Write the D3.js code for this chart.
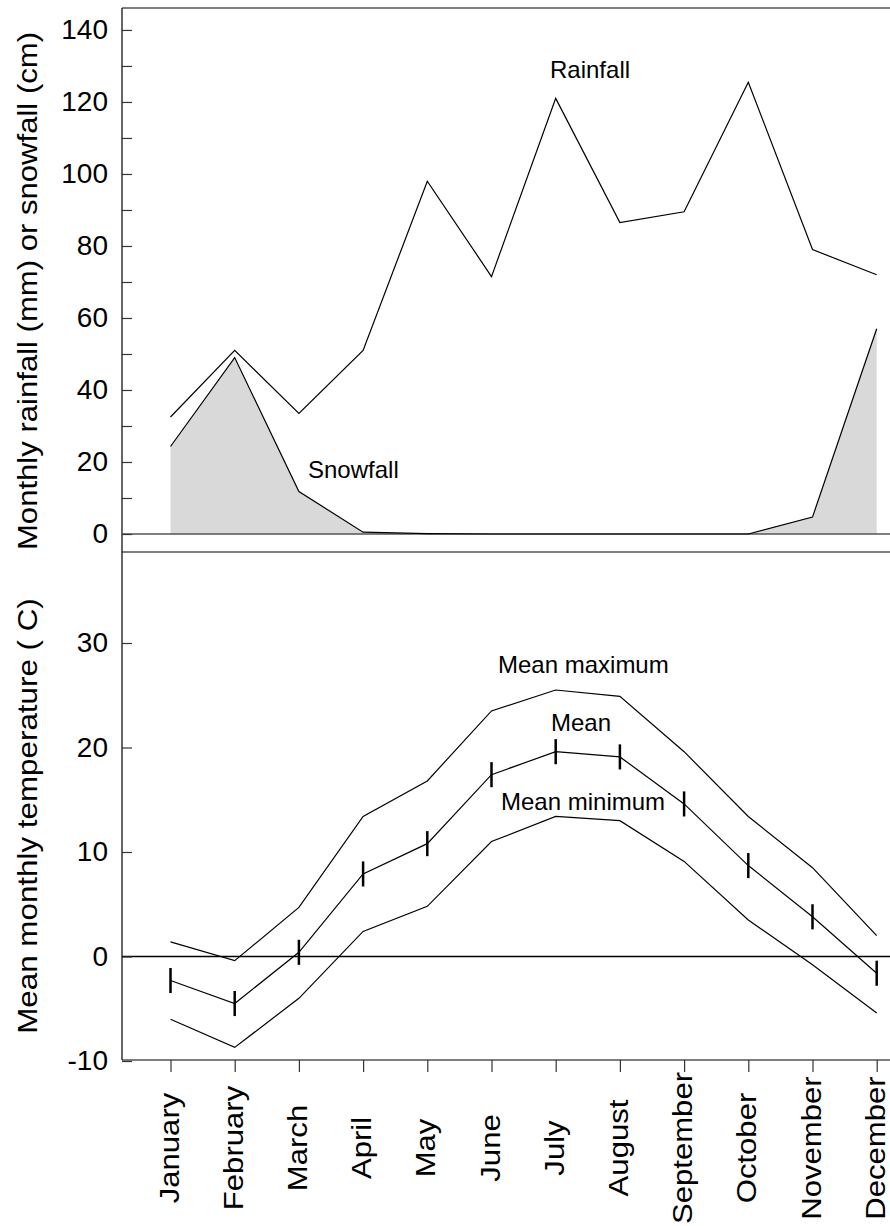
<!DOCTYPE html>
<html>
<head>
<meta charset="utf-8">
<script src="https://cdn.jsdelivr.net/npm/d3@7"></script>
<style>
  body { margin: 0; background: #fff; }
  svg text { font-family: "Liberation Sans", Arial, sans-serif; fill: #000; }
</style>
</head>
<body>
<div id="chart"></div>
<script>
var months = ["January", "February", "March", "April", "May", "June", "July",
  "August", "September", "October", "November", "December"];
var rainfall = [32.5, 51, 33.5, 51, 98, 71.5, 121, 86.5, 89.5, 125.5, 79, 72];
var snowfall = [24.3, 49, 11.8, 0.5, 0.1, 0, 0, 0, 0, 0, 4.7, 57];
var tMax = [1.4, -0.4, 4.7, 13.4, 16.8, 23.5, 25.5, 24.9, 19.6, 13.4, 8.5, 2.0];
var tMean = [-2.3, -4.5, 0.4, 7.9, 10.8, 17.4, 19.6, 19.1, 14.6, 8.7, 3.8, -1.6];
var tMin = [-6.0, -8.7, -4.0, 2.4, 4.8, 11.0, 13.4, 13.0, 9.1, 3.5, -0.8, -5.4];
var tErr = 1.2;
var rainTicks = [0, 20, 40, 60, 80, 100, 120, 140];
var rainMinor = [10, 30, 50, 70, 90, 110, 130];
var tempTicks = [-10, 0, 10, 20, 30];

var w = 890, h = 1226;
var left = 122, right = 890;

var svg = d3.select("#chart").append("svg")
  .attr("width", w)
  .attr("height", h);

var x = d3.scalePoint().domain(months).range([170.5, 876.7]);
var yR = d3.scaleLinear().domain([-5, 146.1]).range([552, 8]);
var yT = d3.scaleLinear().domain([-10, 30]).range([1061, 643]);

// frame
svg.append("line").attr("x1", left).attr("x2", right)
  .attr("y1", 8).attr("y2", 8)
  .attr("stroke", "#000").attr("stroke-width", 1.2);
svg.append("line").attr("x1", left).attr("x2", right)
  .attr("y1", 552).attr("y2", 552)
  .attr("stroke", "#000").attr("stroke-width", 1.2);
svg.append("line").attr("x1", left).attr("x2", left)
  .attr("y1", 8).attr("y2", 1060)
  .attr("stroke", "#000").attr("stroke-width", 1.2);
svg.append("line").attr("x1", left).attr("x2", right)
  .attr("y1", 1060).attr("y2", 1060)
  .attr("stroke", "#000").attr("stroke-width", 1.2);

// snowfall area
var area = d3.area()
  .x(function(d, i){ return x(months[i]); })
  .y0(yR(0))
  .y1(function(d){ return yR(d); });
svg.append("path").datum(snowfall)
  .attr("d", area)
  .attr("fill", "#d9d9d9");

// zero line top
svg.append("line").attr("x1", left).attr("x2", right)
  .attr("y1", yR(0)).attr("y2", yR(0))
  .attr("stroke", "#555").attr("stroke-width", 1.5);

var lineR = d3.line()
  .x(function(d, i){ return x(months[i]); })
  .y(function(d){ return yR(d); });
svg.append("path").datum(rainfall).attr("d", lineR)
  .attr("fill", "none").attr("stroke", "#000").attr("stroke-width", 1.2);
svg.append("path").datum(snowfall).attr("d", lineR)
  .attr("fill", "none").attr("stroke", "#000").attr("stroke-width", 1.2);

var fmt = function(d){ return String(d); };

// top y axis
var axR = svg.append("g").attr("transform", "translate(" + left + ",0)")
  .call(d3.axisLeft(yR).tickValues(rainTicks).tickSize(-10).tickPadding(14).tickFormat(fmt));
axR.select(".domain").remove();
axR.selectAll("line").attr("stroke", "#333").attr("stroke-width", 1.2);
axR.selectAll("text").attr("font-size", 28);
var axRm = svg.append("g").attr("transform", "translate(" + left + ",0)")
  .call(d3.axisLeft(yR).tickValues(rainMinor).tickSize(-10).tickFormat(""));
axRm.select(".domain").remove();
axRm.selectAll("line").attr("stroke", "#333").attr("stroke-width", 1.2);

// bottom panel
svg.append("line").attr("x1", left).attr("x2", right)
  .attr("y1", yT(0)).attr("y2", yT(0))
  .attr("stroke", "#000").attr("stroke-width", 1.5);

var lineT = d3.line()
  .x(function(d, i){ return x(months[i]); })
  .y(function(d){ return yT(d); });
[tMax, tMean, tMin].forEach(function(s){
  svg.append("path").datum(s).attr("d", lineT)
    .attr("fill", "none").attr("stroke", "#000").attr("stroke-width", 1.2);
});

svg.selectAll(".err").data(tMean).enter().append("line")
  .attr("class", "err")
  .attr("x1", function(d, i){ return x(months[i]); })
  .attr("x2", function(d, i){ return x(months[i]); })
  .attr("y1", function(d){ return yT(d - tErr); })
  .attr("y2", function(d){ return yT(d + tErr); })
  .attr("stroke", "#000").attr("stroke-width", 2.5);

var axT = svg.append("g").attr("transform", "translate(" + left + ",0)")
  .call(d3.axisLeft(yT).tickValues(tempTicks).tickSize(-10).tickPadding(14).tickFormat(fmt));
axT.select(".domain").remove();
axT.selectAll("line").attr("stroke", "#333").attr("stroke-width", 1.2);
axT.selectAll("text").attr("font-size", 28);

// x axis
var axX = svg.append("g").attr("transform", "translate(0,1060)")
  .call(d3.axisBottom(x).tickSize(12).tickFormat(""));
axX.select(".domain").remove();
axX.selectAll("line").attr("stroke", "#333").attr("stroke-width", 1.2);

svg.selectAll(".mlab").data(months).enter().append("text")
  .attr("class", "mlab")
  .attr("transform", function(d){ return "translate(" + (x(d) + 8) + ",1148) rotate(-90) scale(1.11,1)"; })
  .attr("text-anchor", "middle")
  .attr("font-size", 28)
  .text(function(d){ return d; });

// axis titles
svg.append("text")
  .attr("transform", "translate(37,291) rotate(-90) scale(1.11,1)")
  .attr("text-anchor", "middle").attr("font-size", 28)
  .text("Monthly rainfall (mm) or snowfall (cm)");
svg.append("text")
  .attr("transform", "translate(37,816) rotate(-90) scale(1.12,1)")
  .attr("text-anchor", "middle").attr("font-size", 28)
  .text("Mean monthly temperature ( C)");

// series labels
svg.append("text").attr("x", 550).attr("y", 78).attr("font-size", 24).text("Rainfall");
svg.append("text").attr("x", 308).attr("y", 478).attr("font-size", 24).text("Snowfall");
svg.append("text").attr("x", 498).attr("y", 673).attr("font-size", 24).text("Mean maximum");
svg.append("text").attr("x", 551).attr("y", 731).attr("font-size", 24).text("Mean");
svg.append("text").attr("x", 501).attr("y", 810).attr("font-size", 24).text("Mean minimum");
</script>
</body>
</html>
